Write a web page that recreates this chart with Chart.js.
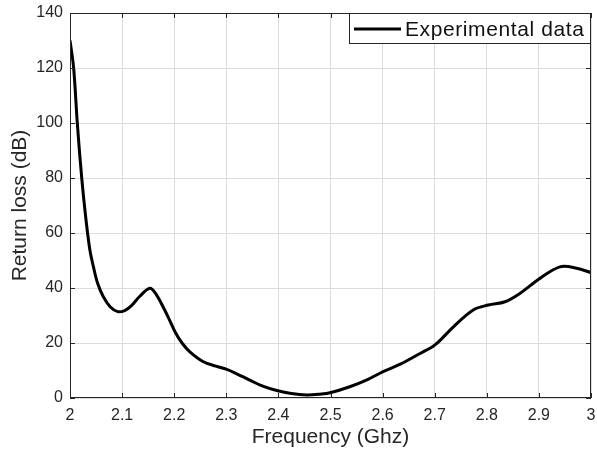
<!DOCTYPE html>
<html>
<head>
<meta charset="utf-8">
<script src="https://cdn.jsdelivr.net/npm/chart.js@4"></script>
<style>
  html, body { margin: 0; padding: 0; background: #fff; overflow: hidden; }
  #wrap { width: 597px; height: 450px; }
</style>
</head>
<body>
<div id="wrap"><canvas id="grafico"></canvas></div>
<script>
// Datos
const freq = [2.0, 2.007, 2.014, 2.0225, 2.03, 2.038, 2.045, 2.053, 2.064, 2.077, 2.0915, 2.105, 2.118, 2.134, 2.1535, 2.166, 2.179, 2.19, 2.2015, 2.215, 2.23, 2.256, 2.28, 2.301, 2.32, 2.345, 2.37, 2.397, 2.425, 2.454, 2.48, 2.499, 2.537, 2.57, 2.601, 2.635, 2.672, 2.7006, 2.736, 2.774, 2.803, 2.835, 2.864, 2.902, 2.9405, 2.9725, 3.0];
const perdida = [130, 120, 100, 80, 66, 54, 47.7, 41.7, 36.8, 33.2, 31.4, 31.8, 33.6, 37, 39.9, 37.5, 33, 28.8, 24.1, 20, 16.8, 13.2, 11.6, 10.4, 8.8, 6.5, 4.3, 2.7, 1.6, 1.1, 1.4, 1.9, 4.1, 6.6, 9.6, 12.4, 16.2, 19.3, 25.9, 32, 33.8, 35, 38.1, 43.5, 47.7, 47.2, 45.6];
const xTicks = [2, 2.1, 2.2, 2.3, 2.4, 2.5, 2.6, 2.7, 2.8, 2.9, 3];
const yTicks = [0, 20, 40, 60, 80, 100, 120, 140];
const serieLabel = 'Experimental data';

const fuente = '"Liberation Sans", Arial, sans-serif';
const gris = '#262626';

// Marco, marcas interiores y leyenda estilo MATLAB
const marcoPlugin = {
  id: 'marco',
  afterDraw(chart) {
    const { ctx, chartArea: a, scales } = chart;
    ctx.save();
    ctx.strokeStyle = gris;
    ctx.lineWidth = 1;
    ctx.strokeRect(a.left + 0.5, a.top + 0.5, a.right - a.left - 1, a.bottom - a.top - 1);
    ctx.beginPath();
    xTicks.forEach(v => {
      const px = Math.round(scales.x.getPixelForValue(v)) + 0.5;
      ctx.moveTo(px, a.bottom); ctx.lineTo(px, a.bottom - 5);
      ctx.moveTo(px, a.top); ctx.lineTo(px, a.top + 5);
    });
    yTicks.forEach(v => {
      const py = Math.round(scales.y.getPixelForValue(v)) + 0.5;
      ctx.moveTo(a.left, py); ctx.lineTo(a.left + 5, py);
      ctx.moveTo(a.right, py); ctx.lineTo(a.right - 5, py);
    });
    ctx.stroke();

    // leyenda
    const lx = 349, ly = a.top, lw = a.right - lx, lh = 31;
    ctx.fillStyle = '#fff';
    ctx.fillRect(lx, ly, lw, lh);
    ctx.strokeStyle = gris;
    ctx.strokeRect(lx + 0.5, ly + 0.5, lw - 1, lh - 1);
    ctx.strokeStyle = '#000';
    ctx.lineWidth = 3;
    ctx.beginPath();
    ctx.moveTo(354, ly + 16); ctx.lineTo(401, ly + 16);
    ctx.stroke();
    ctx.fillStyle = '#111';
    ctx.font = '21px ' + fuente;
    ctx.letterSpacing = '0.6px';
    ctx.textBaseline = 'middle';
    ctx.fillText(chart.data.datasets[0].label, 405, ly + 17);
    ctx.restore();
  }
};

const ctx = document.getElementById('grafico').getContext('2d');
new Chart(ctx, {
  type: 'line',
  data: {
    datasets: [{
      label: serieLabel,
      data: freq.map((f, i) => ({ x: f, y: perdida[i] })),
      borderColor: '#000',
      borderWidth: 3,
      pointRadius: 0,
      fill: false,
      tension: 0.35
    }]
  },
  options: {
    responsive: true,
    maintainAspectRatio: false,
    animation: false,
    layout: { padding: { top: 13, right: 6, left: 0, bottom: 0 } },
    plugins: { legend: { display: false }, tooltip: { enabled: false } },
    scales: {
      x: {
        type: 'linear',
        min: 2, max: 3,
        afterBuildTicks: s => { s.ticks = xTicks.map(v => ({ value: v })); },
        afterFit: s => { s.height = 52; s.paddingLeft = 0; s.paddingRight = 0; },
        grid: { color: '#dcdcdc', drawTicks: false, lineWidth: 1 },
        border: { display: false },
        ticks: {
          color: gris, padding: 8,
          font: { family: fuente, size: 16 },
          callback: v => String(Math.round(v * 10) / 10)
        },
        title: {
          display: true, text: 'Frequency (Ghz)', color: gris,
          font: { family: fuente, size: 21 }, padding: { top: 0, bottom: 0 }
        }
      },
      y: {
        min: 0, max: 140,
        afterBuildTicks: s => { s.ticks = yTicks.map(v => ({ value: v })); },
        afterFit: s => { s.width = 70; s.paddingTop = 0; s.paddingBottom = 0; },
        grid: { color: '#dcdcdc', drawTicks: false, lineWidth: 1 },
        border: { display: false },
        ticks: {
          color: gris, padding: 7,
          font: { family: fuente, size: 16 }
        },
        title: {
          display: true, text: 'Return loss (dB)', color: gris,
          font: { family: fuente, size: 21 }, padding: { top: 8, bottom: 0 }
        }
      }
    }
  },
  plugins: [marcoPlugin]
});
</script>
</body>
</html>
